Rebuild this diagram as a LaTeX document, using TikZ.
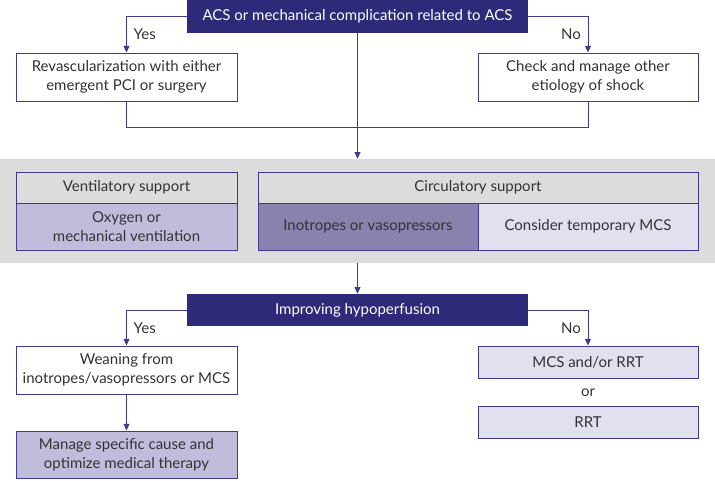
\documentclass[tikz,border=0pt]{standalone}
\usepackage{fontspec}
\setmainfont{Lato}
\usetikzlibrary{positioning, arrows.meta, calc}

\definecolor{navy}{HTML}{2E2978}
\definecolor{rim}{HTML}{3F3A8F}
\definecolor{lav}{HTML}{C0BDDC}
\definecolor{midlav}{HTML}{8783AE}
\definecolor{palelav}{HTML}{E1E0EF}
\definecolor{panelgray}{HTML}{DCDCDC}
\definecolor{ink}{HTML}{333333}

\begin{document}
\begin{tikzpicture}[
  x=0.75pt, y=-0.75pt,
  >={Triangle[length=5pt, width=4.5pt]},
  font=\fontsize{11.25}{14.25}\selectfont,
  every node/.style={text=ink, align=center, inner sep=0pt},
  darkbox/.style={fill=navy, text=white, minimum width=255.75pt, minimum height=24.75pt},
  wbox/.style={draw=rim, line width=0.75pt, fill=white, minimum width=165.75pt, minimum height=36pt},
  cell/.style={draw=rim, line width=0.75pt, minimum height=23.25pt},
  link/.style={->, draw=rim, line width=0.75pt},
  tag/.style={font=\fontsize{11.25}{14.25}\selectfont}
]
\useasboundingbox (0,0) rectangle (715,480);

%--- Grey support panel ---
\node[fill=panelgray, minimum width=536.25pt, minimum height=78pt] (panel) at (357.5,211) {};

%--- Top decision ---
\node[darkbox] (acs)  at (357.5,16.5) {ACS or mechanical complication related to ACS};
\node[wbox]    (revasc) at (126.5,77) {Revascularization with either\\emergent PCI or surgery};
\node[wbox, minimum width=165pt] (other) at (588,77) {Check and manage other\\etiology of shock};

%--- Support cells ---
\node[cell, fill=panelgray, minimum width=165.75pt] (vent)  at (126.5,187.5) {Ventilatory support};
\node[cell, fill=lav, minimum width=165.75pt, minimum height=35.25pt] (oxy) at (126.5,226.5) {Oxygen or\\mechanical ventilation};
\node[cell, fill=panelgray, minimum width=330pt] (circ) at (478,187.5) {Circulatory support};
\node[cell, fill=midlav, minimum width=165pt, minimum height=35.25pt] (ino) at (368,226.5) {Inotropes or vasopressors};
\node[cell, fill=palelav, minimum width=165pt, minimum height=35.25pt] (tmcs) at (588,226.5) {Consider temporary MCS};

%--- Second decision ---
\node[darkbox, minimum height=24pt] (hypo) at (357.5,310) {Improving hypoperfusion};
\node[wbox]  (wean)   at (126.5,370)   {Weaning from\\inotropes/vasopressors or MCS};
\node[wbox, fill=lav, minimum height=35.25pt] (manage) at (126.5,454.5) {Manage specific cause and\\optimize medical therapy};
\node[wbox, fill=palelav, minimum width=165pt, minimum height=24pt] (mcsrrt) at (588,362) {MCS and/or RRT};
\node (or) at (588,393) {or};
\node[wbox, fill=palelav, minimum width=165pt, minimum height=24pt] (rrt) at (588,422) {RRT};

%--- Connectors ---
\draw[link] (acs.west) -| node[pos=0.75, right=5pt, tag] {Yes} (revasc.north);
\draw[link] (acs.east) -| node[pos=0.75, left=5pt, tag] {No} (other.north);
\draw[draw=rim, line width=0.75pt] (revasc.south) -- ++(0,26) -| (other.south);
\draw[link] (acs.south) -- (panel.north);
\draw[link] (panel.south) -- (hypo.north);
\draw[link] (hypo.west) -| node[pos=0.75, right=5pt, tag] {Yes} (wean.north);
\draw[link] (hypo.east) -| node[pos=0.75, left=5pt, tag] {No} (mcsrrt.north);
\draw[link] (wean.south) -- (manage.north);

\end{tikzpicture}
\end{document}
